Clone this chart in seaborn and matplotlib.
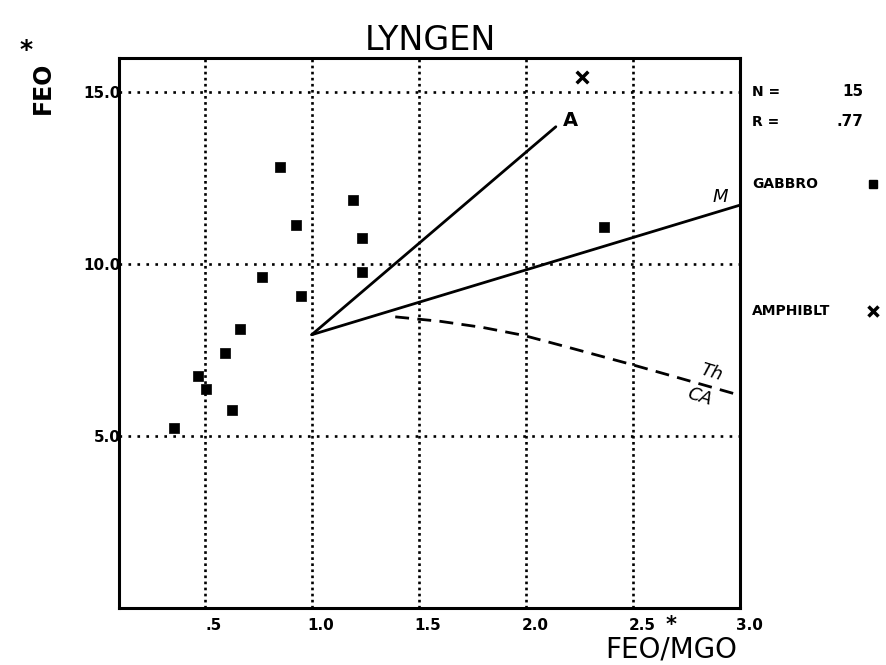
import matplotlib
matplotlib.use("Agg")
import matplotlib.pyplot as plt
import seaborn as sns
import pandas as pd
from matplotlib.transforms import ScaledTranslation

# ---------------- data ----------------
title = "LYNGEN"
gabbro_x = [0.850, 1.195, 0.928, 1.236, 0.770, 1.235, 0.950, 0.667, 0.594, 0.468, 0.508, 0.630, 0.356, 2.365]
gabbro_y = [12.82, 11.86, 11.13, 10.77, 9.62, 9.77, 9.08, 8.12, 7.41, 6.76, 6.38, 5.77, 5.23, 11.09]
amph_x = [2.262]
amph_y = [15.46]

line_a_x = [1.0, 2.14]
line_a_y = [7.95, 14.0]
line_m_x = [1.0, 3.0]
line_m_y = [7.95, 11.72]
thca_x = [1.39, 1.60, 1.80, 1.99, 2.20, 2.49, 2.70, 2.97]
thca_y = [8.47, 8.34, 8.16, 7.93, 7.58, 7.09, 6.72, 6.24]

x_ticks = [0.5, 1.0, 1.5, 2.0, 2.5, 3.0]
x_tick_labels = [".5", "1.0", "1.5", "2.0", "2.5", "3.0"]
y_ticks = [5, 10, 15]
y_tick_labels = ["5.0", "10.0", "15.0"]
stats_labels = ["N =", "R ="]
stats_values = ["15", ".77"]
legend_labels = ["GABBRO", "AMPHIBLT"]

gab = pd.DataFrame({"x": gabbro_x, "y": gabbro_y})
amp = pd.DataFrame({"x": amph_x, "y": amph_y})

# ---------------- style ----------------
sns.set_style("white")
plt.rcParams['font.family'] = ['DejaVu Sans']
plt.rcParams['text.color'] = 'black'
plt.rcParams['xtick.color'] = 'black'
plt.rcParams['ytick.color'] = 'black'
plt.rcParams['axes.labelcolor'] = 'black'

W, H = 887, 665
fig = plt.figure(figsize=(W / 100, H / 100), dpi=100)
ax = fig.add_axes([119 / W, 1 - 608 / H, (740 - 119) / W, (608 - 58) / H])

ax.set_xlim(0.1, 3.0)
ax.set_ylim(0, 16)

# dotted grid
for xv in x_ticks[:-1]:
    ax.axvline(xv, color="black", lw=1.9, linestyle=(0, (1, 1.3)), zorder=1)
for yv in y_ticks:
    ax.axhline(yv, color="black", lw=1.9, linestyle=(0, (1, 2.4)), zorder=1)

# trend lines
ax.plot(line_a_x, line_a_y, color="black", lw=2.0, zorder=2)
ax.plot(line_m_x, line_m_y, color="black", lw=2.0, zorder=2)
ax.plot(thca_x, thca_y, color="black", lw=2.0, linestyle=(0, (5, 3)), zorder=2)

# points
sns.scatterplot(data=gab, x="x", y="y", ax=ax, marker="s", s=42, color="black",
                edgecolor="black", linewidth=0.5, zorder=3, legend=False)
sns.scatterplot(data=amp, x="x", y="y", ax=ax, marker="x", s=70, color="black",
                linewidth=2.5, zorder=3, legend=False)

# line labels
ax.text(2.21, 14.17, "A", fontsize=14, fontweight="bold", ha="center", va="center")
ax.text(2.91, 11.95, "M", fontsize=13, fontstyle="italic", ha="center", va="center")
ax.text(2.867, 6.86, "Th", fontsize=13, fontstyle="italic", ha="center", va="center", rotation=-17)
ax.text(2.813, 6.14, "CA", fontsize=13, fontstyle="italic", ha="center", va="center", rotation=-17)

# spines
for sp in ax.spines.values():
    sp.set_visible(True)
    sp.set_color("black")
    sp.set_linewidth(2.2)

# ticks
ax.set_xticks(x_ticks)
ax.set_xticklabels(x_tick_labels, fontsize=11, fontweight="bold")
ax.set_yticks(y_ticks)
ax.set_yticklabels(y_tick_labels, fontsize=11, fontweight="bold")
ax.tick_params(axis="x", length=0, pad=7)
ax.tick_params(axis="y", length=0, pad=-1)
for lbl in ax.get_xticklabels():
    lbl.set_transform(lbl.get_transform() + ScaledTranslation(9 / 100, 0, fig.dpi_scale_trans))
ax.set_xlabel("")
ax.set_ylabel("")
ax.grid(False)

# title
fig.text(430 / W, 1 - 50 / H, title, fontsize=24, ha="center", va="baseline")

# axis labels
fig.text(737 / W, 1 - 658 / H, "FEO/MGO", fontsize=20, ha="right", va="baseline")
fig.text(671 / W, 1 - 625 / H, "*", fontsize=15, fontweight="bold", ha="center", va="center")
fig.text(43 / W, 1 - 88 / H, "FEO", fontsize=17, fontweight="bold", rotation=90,
         ha="center", va="center")
fig.text(26 / W, 1 - 50 / H, "*", fontsize=18, fontweight="bold", ha="center", va="center")

# stats
for i, (lab, val) in enumerate(zip(stats_labels, stats_values)):
    yy = 1 - (92 + 30 * i) / H
    fig.text(752 / W, yy, lab, fontsize=10, fontweight="bold", ha="left", va="center")
    fig.text(863 / W, yy, val, fontsize=11, fontweight="bold", ha="right", va="center")

# legend
leg_y = [1 - 184 / H, 1 - 311 / H]
fig.text(752 / W, leg_y[0], legend_labels[0], fontsize=10, fontweight="bold", ha="left", va="center")
fig.text(752 / W, leg_y[1], legend_labels[1], fontsize=10, fontweight="bold", ha="left", va="center")
ax.plot([873 / W], [leg_y[0]], marker="s", markersize=5.5, color="black",
        transform=fig.transFigure, clip_on=False, linestyle="none")
ax.plot([873 / W], [leg_y[1]], marker="x", markersize=7, markeredgewidth=2.5, color="black",
        transform=fig.transFigure, clip_on=False, linestyle="none")

fig.savefig("out.png", dpi=100)
